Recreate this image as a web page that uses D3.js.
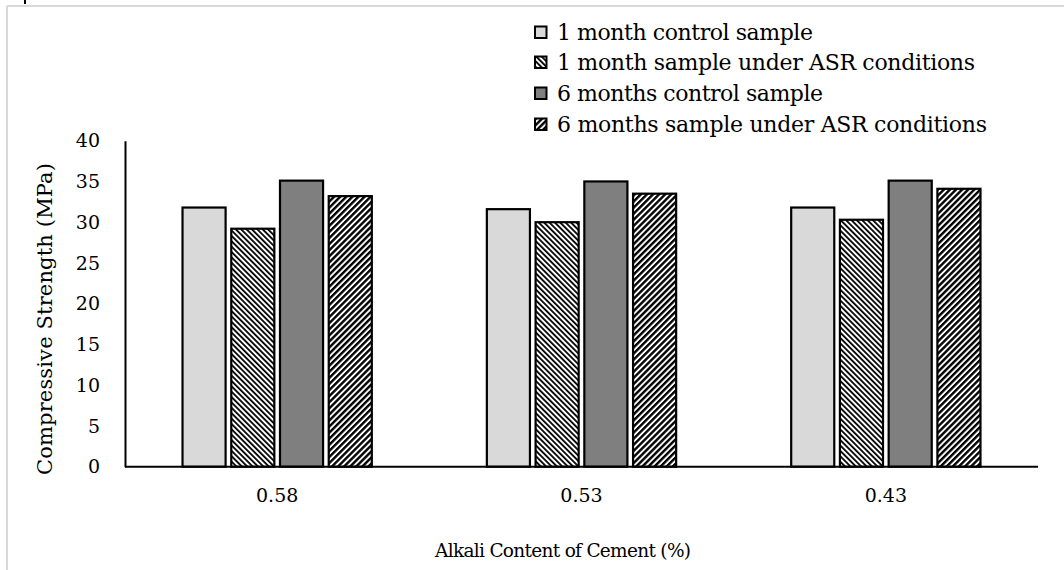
<!DOCTYPE html>
<html>
<head>
<meta charset="utf-8">
<script src="https://cdn.jsdelivr.net/npm/d3@7"></script>
<style>
  html, body { margin: 0; padding: 0; background: #fff; }
  svg { display: block; }
  text { font-family: "DejaVu Serif", "Liberation Serif", serif; fill: #000; }
</style>
</head>
<body>
<svg id="chart" width="1064" height="570"></svg>
<script>
// Alkali content categories (x axis)
const categories = ["0.58", "0.53", "0.43"];

// Series names (legend order)
const seriesNames = [
  "1 month control sample",
  "1 month sample under ASR conditions",
  "6 months control sample",
  "6 months sample under ASR conditions"
];

// Compressive strength (MPa), one array per series, in category order
const oneMonthControl = [31.8, 31.6, 31.8];
const oneMonthASR     = [29.2, 30.0, 30.3];
const sixMonthControl = [35.1, 35.0, 35.1];
const sixMonthASR     = [33.2, 33.5, 34.1];

const yTicks = [0, 5, 10, 15, 20, 25, 30, 35, 40];

const seriesValues = [oneMonthControl, oneMonthASR, sixMonthControl, sixMonthASR];

const FONT = "'DejaVu Serif', 'Liberation Serif', serif";

const svg = d3.select("#chart");
const defs = svg.append("defs");

// Diagonal hatch patterns
function hatch(id, angle, period, dark) {
  const p = defs.append("pattern")
    .attr("id", id)
    .attr("patternUnits", "userSpaceOnUse")
    .attr("width", period).attr("height", period)
    .attr("patternTransform", `rotate(${angle})`);
  p.append("rect").attr("width", period).attr("height", period).attr("fill", "#fff");
  p.append("rect").attr("width", dark).attr("height", period).attr("fill", "#000");
}
hatch("hatchBack", -45, 3.8, 1.8);
hatch("hatchFwd", 45, 4.3, 2.4);

const fills = ["#d9d9d9", "url(#hatchBack)", "#7f7f7f", "url(#hatchFwd)"];

// Outer frame (light grey)
svg.append("line").attr("x1", 7).attr("x2", 1064).attr("y1", 6).attr("y2", 6)
  .attr("stroke", "#d9d9d9").attr("stroke-width", 2);
svg.append("line").attr("x1", 7).attr("x2", 7).attr("y1", 6).attr("y2", 570)
  .attr("stroke", "#d9d9d9").attr("stroke-width", 2);
svg.append("line").attr("x1", 25).attr("x2", 25).attr("y1", 0).attr("y2", 4)
  .attr("stroke", "#000").attr("stroke-width", 2);

const plotLeft = 125, plotRight = 1038, plotTop = 140.7, plotBottom = 466.7;

const y = d3.scaleLinear().domain([0, 40]).range([plotBottom, plotTop]);
const x0 = d3.scaleBand().domain(categories).range([plotLeft, plotRight])
  .paddingInner(0.378).paddingOuter(0.189);
const x1 = d3.scaleBand().domain(d3.range(seriesNames.length)).range([0, x0.bandwidth()])
  .paddingInner(0.116).paddingOuter(0);

// Bars
const groups = svg.append("g").selectAll("g")
  .data(categories)
  .join("g")
  .attr("transform", d => `translate(${x0(d)},0)`);

groups.selectAll("rect")
  .data((c, ci) => seriesValues.map((vals, si) => ({ si, v: vals[ci] })))
  .join("rect")
  .attr("x", d => x1(d.si))
  .attr("width", x1.bandwidth())
  .attr("y", d => y(d.v))
  .attr("height", d => y(0) - y(d.v))
  .attr("fill", d => fills[d.si])
  .attr("stroke", "#000")
  .attr("stroke-width", 2.2);

// Y axis
const yAxis = svg.append("g")
  .attr("transform", `translate(${plotLeft},0)`)
  .call(d3.axisLeft(y).tickValues(yTicks).tickSize(0).tickPadding(25));
yAxis.select(".domain").attr("stroke", "#000").attr("stroke-width", 2);
yAxis.selectAll("text").style("font-size", "19px")
  .style("font-family", FONT).attr("fill", "#000");

// X axis
const xAxis = svg.append("g")
  .attr("transform", `translate(0,${plotBottom})`)
  .call(d3.axisBottom(x0).tickSize(0).tickPadding(22));
xAxis.select(".domain").attr("stroke", "#000").attr("stroke-width", 2)
  .attr("d", `M${plotLeft},0H${plotRight}`);
xAxis.selectAll("text").style("font-size", "19px")
  .style("font-family", FONT).attr("fill", "#000");

// Axis titles
svg.append("text")
  .attr("x", 435).attr("y", 557)
  .attr("textLength", 256)
  .style("font-size", "18.5px")
  .text("Alkali Content of Cement (%)");

svg.append("text")
  .attr("transform", "translate(52,475) rotate(-90)")
  .attr("textLength", 312)
  .style("font-size", "21px")
  .text("Compressive Strength (MPa)");

// Legend
const legendWidths = [256, 418, 266, 430];
const legend = svg.append("g").attr("transform", "translate(535,0)");
const rowY = [32, 62, 93, 124];
seriesNames.forEach((name, i) => {
  const g = legend.append("g").attr("transform", `translate(0,${rowY[i]})`);
  g.append("rect").attr("x", 0).attr("y", -5.5).attr("width", 11.5).attr("height", 11.5)
    .attr("fill", fills[i]).attr("stroke", "#000").attr("stroke-width", 2);
  g.append("text").attr("x", 22).attr("y", 7.5)
    .attr("textLength", legendWidths[i])
    .style("font-size", "22px").text(name);
});
</script>
</body>
</html>
